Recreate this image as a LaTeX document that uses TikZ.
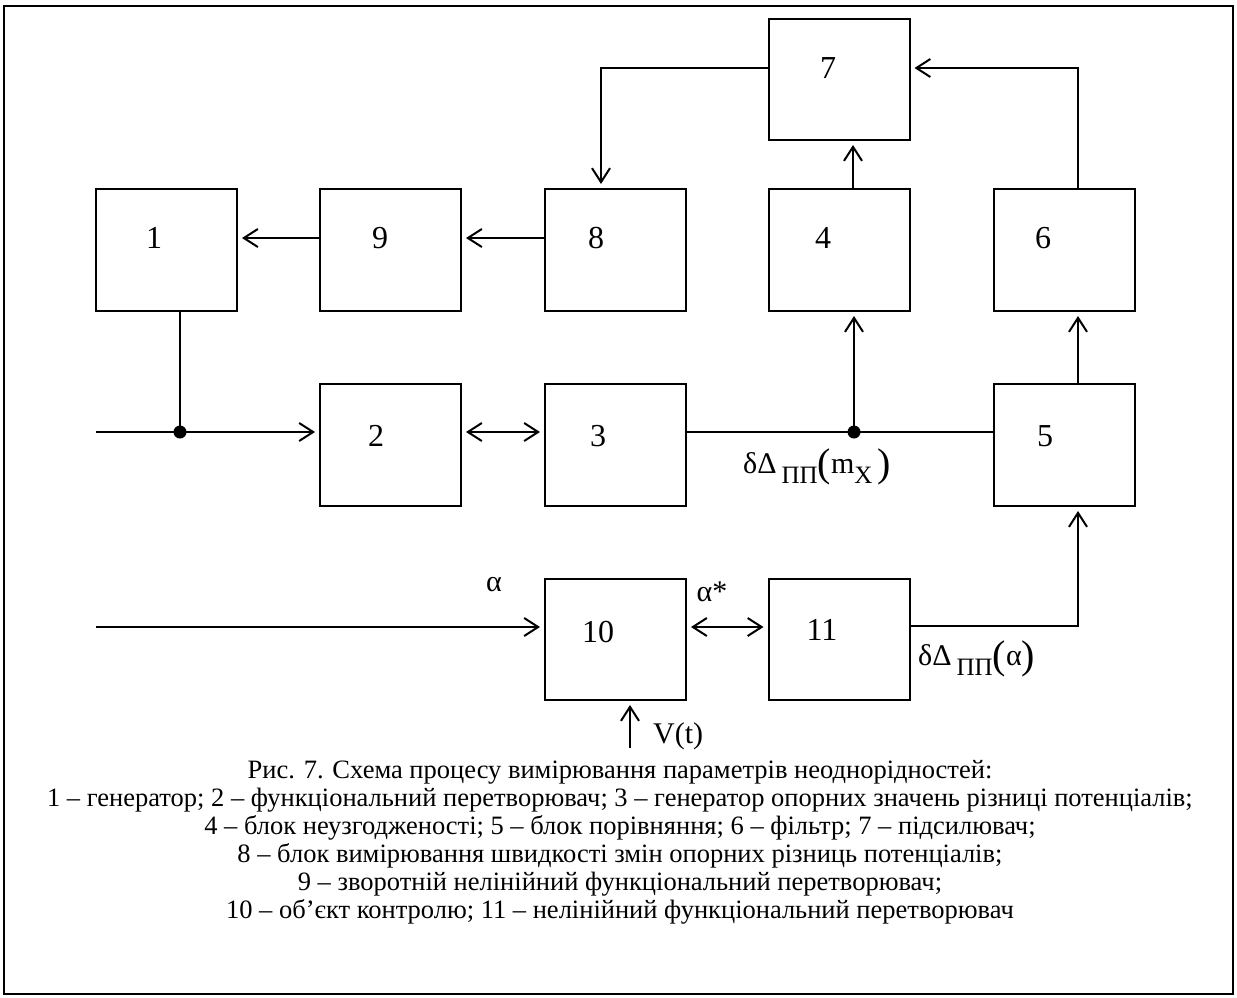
\documentclass[tikz,border=0pt]{standalone}
\usepackage{fontspec}
\setmainfont{Liberation Serif}
\usetikzlibrary{arrows.meta,calc}
\tikzset{
  blk/.style={draw, line width=2pt, minimum width=141pt, minimum height=122pt, inner sep=0pt},
  num/.style={font=\fontsize{32}{32}\selectfont, inner sep=0pt},
  lab/.style={font=\fontsize{30}{30}\selectfont, inner sep=0pt},
  conn/.style={line width=2pt},
  arr/.style={conn, -{Straight Barb[length=14pt,width=18pt,line width=2pt]}, shorten >=4pt},
  darr/.style={conn, {Straight Barb[length=14pt,width=18pt,line width=2pt]}-{Straight Barb[length=14pt,width=18pt,line width=2pt]}, shorten >=4pt, shorten <=4pt},
  dot/.style={circle, fill=black, inner sep=0pt, minimum size=13pt}
}
\newcommand{\sub}[1]{\raisebox{-0.36em}{\fontsize{25}{25}\selectfont #1}}
\newcommand{\bigp}[1]{\raisebox{-0.12em}{\fontsize{40}{40}\selectfont #1}}
\begin{document}
\begin{tikzpicture}[x=1pt,y=-1pt]
\useasboundingbox (0,0) rectangle (1237,997);
\draw[line width=1.5pt] (4,6) rectangle (1233,994);
% boxes
\node[blk] (b1) at (166.5,250) {};
\node[blk] (b9) at (390.5,250) {};
\node[blk] (b8) at (615.5,250) {};
\node[blk] (b4) at (839,250) {};
\node[blk] (b6) at (1064,250) {};
\node[blk, minimum height=121pt] (b7) at (839,79.5) {};
\node[blk] (b2) at (390.5,445) {};
\node[blk] (b3) at (615.5,445) {};
\node[blk] (b5) at (1064,445) {};
\node[blk, minimum height=121pt] (b10) at (615.5,639.5) {};
\node[blk, minimum height=121pt] (b11) at (839,639.5) {};
% numbers
\node[num] (n1) at (154,238) {1};
\node[num] (n9) at (380,238) {9};
\node[num] (n8) at (596,238) {8};
\node[num] (n4) at (823,238) {4};
\node[num] (n6) at (1043,238) {6};
\node[num] (n7) at (828,68) {7};
\node[num] (n2) at (376,436) {2};
\node[num] (n3) at (598,436) {3};
\node[num] (n5) at (1045,436) {5};
\node[num] (n10) at (598,632) {10};
\node[num] (n11) at (822,630) {11};
% coordinates
\coordinate (inA) at (96,432);
\coordinate (inB) at (96,627);
\node[dot] (j1) at (180,432) {};
\node[dot] (j2) at (854,432) {};
\coordinate (c7l) at (601,68);
\coordinate (c7r) at (1078,68);
\coordinate (c11) at (1078,626);
\coordinate (vt) at (630,748);
% connectors
\draw[arr] ([yshift=12pt]b9.west) -- ([yshift=12pt]b1.east);
\draw[arr] ([yshift=12pt]b8.west) -- ([yshift=12pt]b9.east);
\draw[arr] ([yshift=11.5pt]b7.west) -- (c7l) -- (c7l |- b8.north);
\draw[arr] ([xshift=14pt]b4.north) -- ([xshift=14pt]b4.north |- b7.south);
\draw[arr] ([xshift=14pt]b6.north) -- (c7r) -- ([yshift=11.5pt]b7.east);
\draw[conn] ([xshift=13.5pt]b1.south) -- (j1.center);
\draw[arr] (inA) -- ([yshift=13pt]b2.west);
\draw[darr] ([yshift=13pt]b2.east) -- ([yshift=13pt]b3.west);
\draw[conn] ([yshift=13pt]b3.east) -- ([yshift=13pt]b5.west);
\draw[arr] (j2.center) -- (j2.center |- b4.south);
\draw[arr] ([xshift=14pt]b5.north) -- ([xshift=14pt]b5.north |- b6.south);
\draw[arr] ([yshift=13.5pt]b11.east) -- (c11) -- (c11 |- b5.south);
\draw[arr] (inB) -- ([yshift=12.5pt]b10.west);
\draw[darr] ([yshift=12.5pt]b10.east) -- ([yshift=12.5pt]b11.west);
\draw[arr] (vt) -- (vt |- b10.south);
% labels
\node[lab] (la) at (494,585) {α};
\node[lab] (las) at (712,592) {α*};
\node[lab, anchor=base west] (ldm) at (743,473) {δΔ\,\sub{ПП}\bigp{(}m\sub{X}\,\bigp{)}};
\node[lab, anchor=base west] (lda) at (918,665) {δΔ\,\sub{ПП}\bigp{(}α\bigp{)}};
\node[lab, anchor=base west] (lv) at (653,743) {V(t)};
% caption
\node[font=\fontsize{26.5}{28}\selectfont, align=center, anchor=north, inner sep=0pt] (cap) at (620,760) {Рис. 7. Схема процесу вимірювання параметрів неоднорідностей:\\
1 – генератор; 2 – функціональний перетворювач; 3 – генератор опорних значень різниці потенціалів;\\
4 – блок неузгодженості; 5 – блок порівняння; 6 – фільтр; 7 – підсилювач;\\
8 – блок вимірювання швидкості змін опорних різниць потенціалів;\\
9 – зворотній нелінійний функціональний перетворювач;\\
10 – об’єкт контролю; 11 – нелінійний функціональний перетворювач};
\end{tikzpicture}
\end{document}
